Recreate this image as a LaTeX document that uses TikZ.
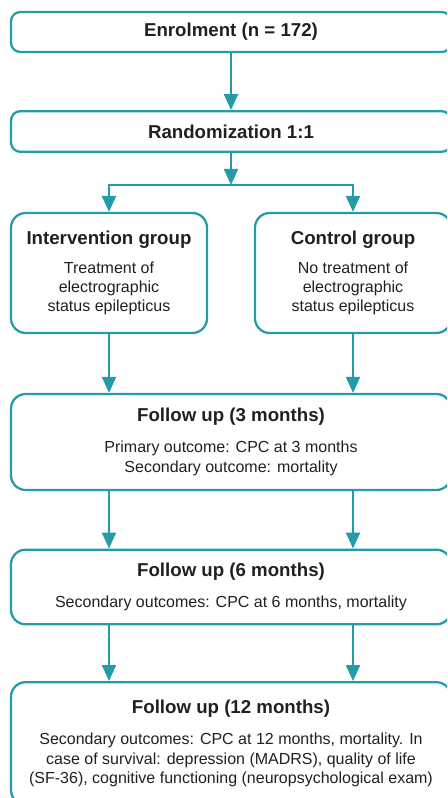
\documentclass[tikz,border=0pt]{standalone}
\usepackage{fontspec}
\setmainfont{Liberation Sans}
\usetikzlibrary{arrows.meta}

\definecolor{trialteal}{RGB}{36,156,168}
\definecolor{boxtext}{RGB}{35,31,32}

\tikzset{
  box/.style={draw=trialteal, line width=1.7pt, rounded corners=7pt, align=center,
    text=boxtext, inner sep=0pt, font=\fontsize{12}{14.6}\selectfont},
  widebox/.style={box, minimum width=330pt},
  roundbox/.style={widebox, rounded corners=11pt},
  groupbox/.style={box, rounded corners=11pt, minimum width=147pt, minimum height=90pt},
  flow/.style={trialteal, line width=1.7pt, -{Triangle[width=10.5pt,length=12pt]}},
}
\newcommand{\boxtitle}[1]{{\fontsize{14}{16}\selectfont\bfseries #1}}

\begin{document}
\begin{tikzpicture}[x=0.75pt,y=-0.75pt]
\useasboundingbox (0,0) rectangle (447,798);
\clip (0,0) rectangle (447,798);
% boxes
\node[widebox, minimum height=30pt] (enrol) at (231,32) {\boxtitle{Enrolment (n = 172)}};
\node[widebox, minimum height=30.5pt] (rand) at (231,131.5) {\boxtitle{Randomization 1:1}};
\node[groupbox] (interv) at (109,273) {\boxtitle{Intervention group}\\[7pt]
  Treatment of\\ electrographic\\ status epilepticus};
\node[groupbox] (ctrl) at (353,273) {\boxtitle{Control group}\\[7pt]
  No treatment of\\ electrographic\\ status epilepticus};
\node[roundbox, minimum height=72pt] (fu3) at (231,442) {\boxtitle{Follow up (3 months)}\\[8.5pt]
  Primary outcome: CPC at 3 months\\ Secondary outcome: mortality};
\node[roundbox, minimum height=56pt] (fu6) at (231,587) {\boxtitle{Follow up (6 months)}\\[8.5pt]
  Secondary outcomes: CPC at 6 months, mortality};
\node[roundbox, minimum height=92pt] (fu12) at (231,743.5) {\boxtitle{Follow up (12 months)}\\[8.5pt]
  Secondary outcomes: CPC at 12 months, mortality. In\\
  case of survival: depression (MADRS), quality of life\\
  (SF-36), cognitive functioning (neuropsychological exam)};
% arrows
\coordinate (split) at (231,185);
\draw[flow] (enrol) -- (rand);
\draw[flow] (rand) -- (split);
\draw[flow] (split) -| (interv.north);
\draw[flow] (split) -| (ctrl.north);
\draw[flow] (interv) -- (interv |- fu3.north);
\draw[flow] (ctrl) -- (ctrl |- fu3.north);
\draw[flow] (fu3.south -| interv) -- (fu6.north -| interv);
\draw[flow] (fu3.south -| ctrl) -- (fu6.north -| ctrl);
\draw[flow] (fu6.south -| interv) -- (fu12.north -| interv);
\draw[flow] (fu6.south -| ctrl) -- (fu12.north -| ctrl);
\end{tikzpicture}
\end{document}
